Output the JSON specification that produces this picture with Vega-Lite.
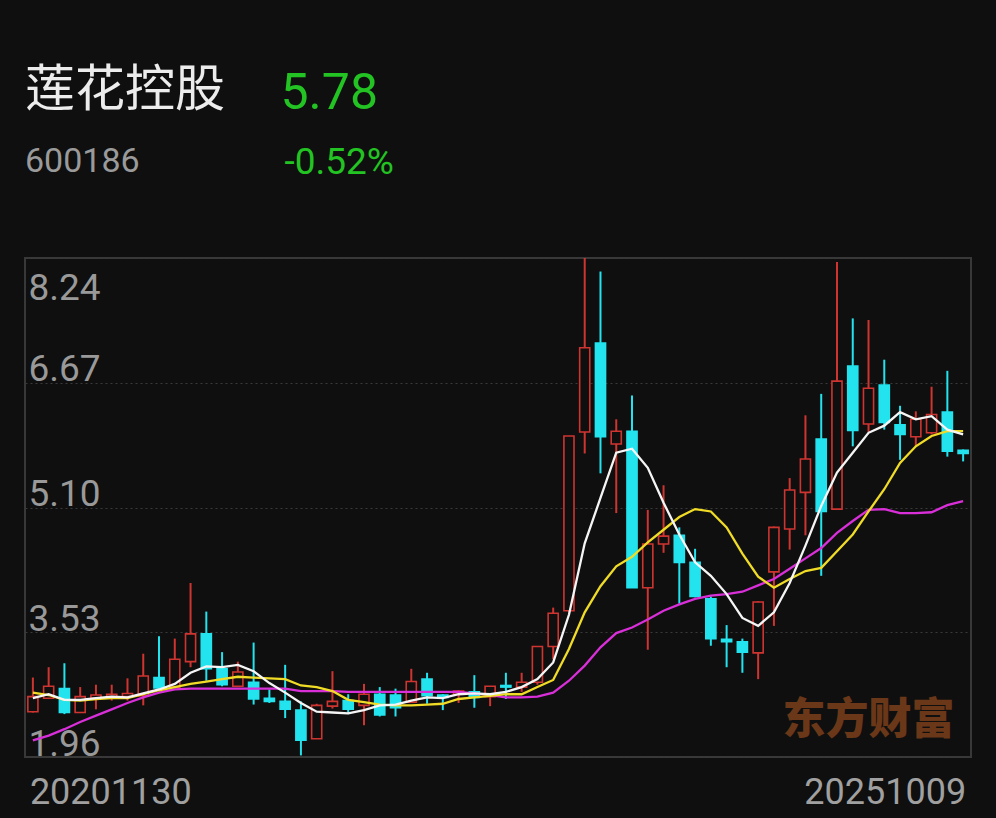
{
  "$schema": "https://vega.github.io/schema/vega-lite/v6.json",
  "width": 946,
  "height": 499,
  "autosize": {"type": "none"},
  "padding": {"left": 25, "top": 258, "right": 25, "bottom": 61},
  "background": "#0f0f0f",
  "config": {
    "view": {"stroke": "#383838", "strokeWidth": 2},
    "font": "Roboto"
  },
  "title": {
    "text": "莲花控股",
    "subtitle": "600186",
    "anchor": "start",
    "frame": "group",
    "font": "Noto Sans CJK SC",
    "fontSize": 50,
    "fontWeight": "normal",
    "color": "#ececec",
    "subtitleFont": "Roboto",
    "subtitleFontSize": 34,
    "subtitleColor": "#9a9a9a",
    "subtitlePadding": 29,
    "offset": -111
  },
  "data": {
    "values": [
      {"m":"2020-11","o":2.53,"h":2.96,"l":2.52,"c":2.72,"ma5":2.70,"ma10":2.77,"ma20":2.17},
      {"m":"2020-12","o":2.70,"h":3.09,"l":2.69,"c":2.85,"ma5":2.75,"ma10":2.74,"ma20":2.23},
      {"m":"2021-01","o":2.82,"h":3.14,"l":2.50,"c":2.52,"ma5":2.68,"ma10":2.68,"ma20":2.31},
      {"m":"2021-02","o":2.52,"h":2.84,"l":2.52,"c":2.72,"ma5":2.68,"ma10":2.67,"ma20":2.40},
      {"m":"2021-03","o":2.70,"h":2.87,"l":2.56,"c":2.74,"ma5":2.70,"ma10":2.69,"ma20":2.48},
      {"m":"2021-04","o":2.72,"h":2.87,"l":2.67,"c":2.75,"ma5":2.72,"ma10":2.70,"ma20":2.56},
      {"m":"2021-05","o":2.72,"h":2.95,"l":2.67,"c":2.76,"ma5":2.71,"ma10":2.70,"ma20":2.64},
      {"m":"2021-06","o":2.73,"h":3.26,"l":2.61,"c":2.98,"ma5":2.76,"ma10":2.75,"ma20":2.71},
      {"m":"2021-07","o":2.96,"h":3.48,"l":2.82,"c":2.83,"ma5":2.81,"ma10":2.80,"ma20":2.77},
      {"m":"2021-08","o":2.84,"h":3.45,"l":2.83,"c":3.19,"ma5":2.88,"ma10":2.84,"ma20":2.81},
      {"m":"2021-09","o":3.16,"h":4.15,"l":3.09,"c":3.51,"ma5":3.02,"ma10":2.88,"ma20":2.82},
      {"m":"2021-10","o":3.51,"h":3.79,"l":2.92,"c":3.07,"ma5":3.10,"ma10":2.91,"ma20":2.82},
      {"m":"2021-11","o":3.07,"h":3.28,"l":2.85,"c":2.87,"ma5":3.09,"ma10":2.94,"ma20":2.82},
      {"m":"2021-12","o":2.85,"h":3.16,"l":2.85,"c":3.03,"ma5":3.12,"ma10":2.97,"ma20":2.82},
      {"m":"2022-01","o":2.90,"h":3.40,"l":2.62,"c":2.69,"ma5":3.04,"ma10":2.96,"ma20":2.82},
      {"m":"2022-02","o":2.70,"h":2.81,"l":2.64,"c":2.66,"ma5":2.89,"ma10":2.95,"ma20":2.82},
      {"m":"2022-03","o":2.66,"h":3.12,"l":2.45,"c":2.56,"ma5":2.77,"ma10":2.94,"ma20":2.82},
      {"m":"2022-04","o":2.55,"h":2.66,"l":1.98,"c":2.17,"ma5":2.64,"ma10":2.86,"ma20":2.79},
      {"m":"2022-05","o":2.19,"h":2.63,"l":2.19,"c":2.61,"ma5":2.53,"ma10":2.84,"ma20":2.79},
      {"m":"2022-06","o":2.60,"h":3.04,"l":2.57,"c":2.66,"ma5":2.52,"ma10":2.79,"ma20":2.79},
      {"m":"2022-07","o":2.67,"h":2.75,"l":2.50,"c":2.56,"ma5":2.51,"ma10":2.68,"ma20":2.78},
      {"m":"2022-08","o":2.61,"h":2.88,"l":2.36,"c":2.75,"ma5":2.55,"ma10":2.65,"ma20":2.78},
      {"m":"2022-09","o":2.75,"h":2.84,"l":2.47,"c":2.49,"ma5":2.61,"ma10":2.62,"ma20":2.78},
      {"m":"2022-10","o":2.74,"h":2.82,"l":2.47,"c":2.58,"ma5":2.62,"ma10":2.61,"ma20":2.78},
      {"m":"2022-11","o":2.65,"h":3.07,"l":2.64,"c":2.91,"ma5":2.67,"ma10":2.61,"ma20":2.78},
      {"m":"2022-12","o":2.94,"h":3.02,"l":2.63,"c":2.73,"ma5":2.71,"ma10":2.62,"ma20":2.78},
      {"m":"2023-01","o":2.74,"h":2.75,"l":2.55,"c":2.71,"ma5":2.70,"ma10":2.63,"ma20":2.78},
      {"m":"2023-02","o":2.75,"h":2.80,"l":2.64,"c":2.79,"ma5":2.75,"ma10":2.69,"ma20":2.78},
      {"m":"2023-03","o":2.78,"h":2.99,"l":2.58,"c":2.71,"ma5":2.76,"ma10":2.71,"ma20":2.76},
      {"m":"2023-04","o":2.72,"h":2.85,"l":2.60,"c":2.85,"ma5":2.75,"ma10":2.73,"ma20":2.74},
      {"m":"2023-05","o":2.86,"h":3.02,"l":2.69,"c":2.84,"ma5":2.78,"ma10":2.75,"ma20":2.71},
      {"m":"2023-06","o":2.84,"h":3.02,"l":2.78,"c":2.90,"ma5":2.84,"ma10":2.75,"ma20":2.71},
      {"m":"2023-07","o":2.90,"h":3.35,"l":2.87,"c":3.35,"ma5":2.94,"ma10":2.84,"ma20":2.72},
      {"m":"2023-08","o":3.35,"h":3.84,"l":3.19,"c":3.77,"ma5":3.15,"ma10":2.93,"ma20":2.77},
      {"m":"2023-09","o":3.80,"h":6.00,"l":3.78,"c":6.00,"ma5":3.75,"ma10":3.32,"ma20":2.92},
      {"m":"2023-10","o":6.05,"h":8.24,"l":5.78,"c":7.11,"ma5":4.65,"ma10":3.78,"ma20":3.11},
      {"m":"2023-11","o":7.17,"h":8.07,"l":5.53,"c":5.99,"ma5":5.22,"ma10":4.11,"ma20":3.34},
      {"m":"2023-12","o":5.90,"h":6.21,"l":5.03,"c":6.06,"ma5":5.79,"ma10":4.36,"ma20":3.52},
      {"m":"2024-01","o":6.06,"h":6.51,"l":4.09,"c":4.09,"ma5":5.84,"ma10":4.48,"ma20":3.59},
      {"m":"2024-02","o":4.09,"h":5.07,"l":3.31,"c":4.64,"ma5":5.60,"ma10":4.66,"ma20":3.69},
      {"m":"2024-03","o":4.64,"h":5.38,"l":4.53,"c":4.74,"ma5":5.16,"ma10":4.82,"ma20":3.80},
      {"m":"2024-04","o":4.75,"h":4.85,"l":3.89,"c":4.41,"ma5":4.76,"ma10":4.98,"ma20":3.88},
      {"m":"2024-05","o":4.41,"h":4.58,"l":3.97,"c":3.98,"ma5":4.41,"ma10":5.08,"ma20":3.95},
      {"m":"2024-06","o":3.95,"h":3.98,"l":3.36,"c":3.45,"ma5":4.24,"ma10":5.05,"ma20":3.99},
      {"m":"2024-07","o":3.44,"h":3.62,"l":3.09,"c":3.41,"ma5":4.01,"ma10":4.85,"ma20":4.01},
      {"m":"2024-08","o":3.41,"h":3.45,"l":3.02,"c":3.28,"ma5":3.71,"ma10":4.52,"ma20":4.04},
      {"m":"2024-09","o":3.27,"h":3.92,"l":2.94,"c":3.91,"ma5":3.61,"ma10":4.23,"ma20":4.12},
      {"m":"2024-10","o":4.29,"h":4.86,"l":3.61,"c":4.85,"ma5":3.78,"ma10":4.09,"ma20":4.20},
      {"m":"2024-11","o":4.83,"h":5.47,"l":4.57,"c":5.32,"ma5":4.15,"ma10":4.20,"ma20":4.33},
      {"m":"2024-12","o":5.29,"h":6.26,"l":4.75,"c":5.71,"ma5":4.62,"ma10":4.30,"ma20":4.46},
      {"m":"2025-01","o":5.96,"h":6.53,"l":4.24,"c":5.05,"ma5":5.12,"ma10":4.34,"ma20":4.59},
      {"m":"2025-02","o":5.08,"h":8.19,"l":5.08,"c":6.69,"ma5":5.54,"ma10":4.55,"ma20":4.78},
      {"m":"2025-03","o":6.88,"h":7.48,"l":5.87,"c":6.07,"ma5":5.79,"ma10":4.76,"ma20":4.93},
      {"m":"2025-04","o":6.15,"h":7.46,"l":6.05,"c":6.60,"ma5":6.04,"ma10":5.05,"ma20":5.07},
      {"m":"2025-05","o":6.64,"h":6.96,"l":6.08,"c":6.17,"ma5":6.13,"ma10":5.33,"ma20":5.08},
      {"m":"2025-06","o":6.14,"h":6.38,"l":5.70,"c":6.02,"ma5":6.30,"ma10":5.66,"ma20":5.03},
      {"m":"2025-07","o":5.99,"h":6.31,"l":5.87,"c":6.21,"ma5":6.21,"ma10":5.87,"ma20":5.03},
      {"m":"2025-08","o":6.04,"h":6.62,"l":6.02,"c":6.27,"ma5":6.25,"ma10":6.00,"ma20":5.04},
      {"m":"2025-09","o":6.30,"h":6.82,"l":5.74,"c":5.81,"ma5":6.08,"ma10":6.06,"ma20":5.13},
      {"m":"2025-10","o":5.82,"h":5.83,"l":5.68,"c":5.78,"ma5":6.02,"ma10":6.06,"ma20":5.18}
    ]
  },
  "encoding": {
    "x": {
      "field": "m",
      "type": "ordinal",
      "sort": null,
      "scale": {"type": "band", "paddingInner": 0.36, "paddingOuter": 0.18},
      "axis": {
        "values": ["2020-11", "2025-10"],
        "labelExpr": "datum.value == '2020-11' ? '20201130' : '20251009'",
        "labelAlign": {"condition": {"test": "datum.value == '2020-11'", "value": "left"}, "value": "right"},
        "labelOffset": {"condition": {"test": "datum.value == '2020-11'", "value": -3}, "value": 3},
        "labelBaseline": "alphabetic",
        "labelPadding": 46,
        "labelAngle": 0,
        "labelFont": "Roboto",
        "labelFontSize": 36,
        "labelColor": "#a0a0a0",
        "labelFlush": false,
        "labelOverlap": false,
        "labelBound": false,
        "ticks": false,
        "tickSize": 0,
        "domain": false,
        "grid": false,
        "title": "-0.52%",
        "titleFont": "Roboto",
        "titleFontSize": 37,
        "titleFontWeight": "normal",
        "titleColor": "#22c322",
        "titleAlign": "left",
        "titleBaseline": "alphabetic",
        "titleAngle": 0,
        "titleX": 259,
        "titleY": -584
      }
    }
  },
  "layer": [
    {
      "mark": {"type": "rule", "strokeWidth": 2},
      "encoding": {
        "y": {
          "field": "l",
          "type": "quantitative",
          "scale": {"domain": [1.96, 8.24], "nice": false, "zero": false},
          "axis": {
            "values": [1.96, 3.53, 5.10, 6.67, 8.24],
            "format": ".2f",
            "orient": "left",
            "ticks": false,
            "tickSize": 0,
            "domain": false,
            "labelAlign": "left",
            "labelPadding": -3,
            "labelBaseline": "alphabetic",
            "labelOffset": {"condition": {"test": "datum.value > 8", "value": 41}, "value": -2},
            "labelFont": "Roboto",
            "labelFontSize": 37,
            "labelColor": "#999999",
            "labelFlush": false,
            "labelOverlap": false,
            "labelBound": false,
            "grid": true,
            "gridColor": "#3a3a3a",
            "gridDash": [2, 3],
            "gridWidth": 1,
            "title": "5.78",
            "titleFont": "Roboto",
            "titleFontSize": 50,
            "titleFontWeight": "normal",
            "titleColor": "#22c322",
            "titleAngle": 0,
            "titleAlign": "left",
            "titleBaseline": "alphabetic",
            "titleX": 255,
            "titleY": -150
          }
        },
        "y2": {"field": "h"},
        "color": {"condition": {"test": "datum.c >= datum.o", "value": "#cf3530"}, "value": "#22e3ee"}
      }
    },
    {
      "mark": {"type": "bar", "strokeWidth": 1.6},
      "encoding": {
        "y": {"field": "o", "type": "quantitative"},
        "y2": {"field": "c"},
        "fill": {"condition": {"test": "datum.c >= datum.o", "value": "#0f0f0f"}, "value": "#22e3ee"},
        "stroke": {"condition": {"test": "datum.c >= datum.o", "value": "#cf3530"}, "value": "#22e3ee"}
      }
    },
    {
      "mark": {"type": "line", "strokeWidth": 2.3, "color": "#d92fd9"},
      "encoding": {"y": {"field": "ma20", "type": "quantitative"}}
    },
    {
      "mark": {"type": "line", "strokeWidth": 2.3, "color": "#f0dc26"},
      "encoding": {"y": {"field": "ma10", "type": "quantitative"}}
    },
    {
      "mark": {"type": "line", "strokeWidth": 2.3, "color": "#f5f5f5"},
      "encoding": {"y": {"field": "ma5", "type": "quantitative"}}
    },
    {
      "data": {"values": [{"wm": "东方财富"}]},
      "mark": {"type": "text", "font": "Noto Sans CJK SC", "fontWeight": 900, "fontSize": 43, "color": "#6a3719", "align": "center", "baseline": "middle"},
      "encoding": {
        "x": {"datum": "2025-04"},
        "y": {"datum": 2.41},
        "text": {"field": "wm"}
      }
    }
  ]
}
